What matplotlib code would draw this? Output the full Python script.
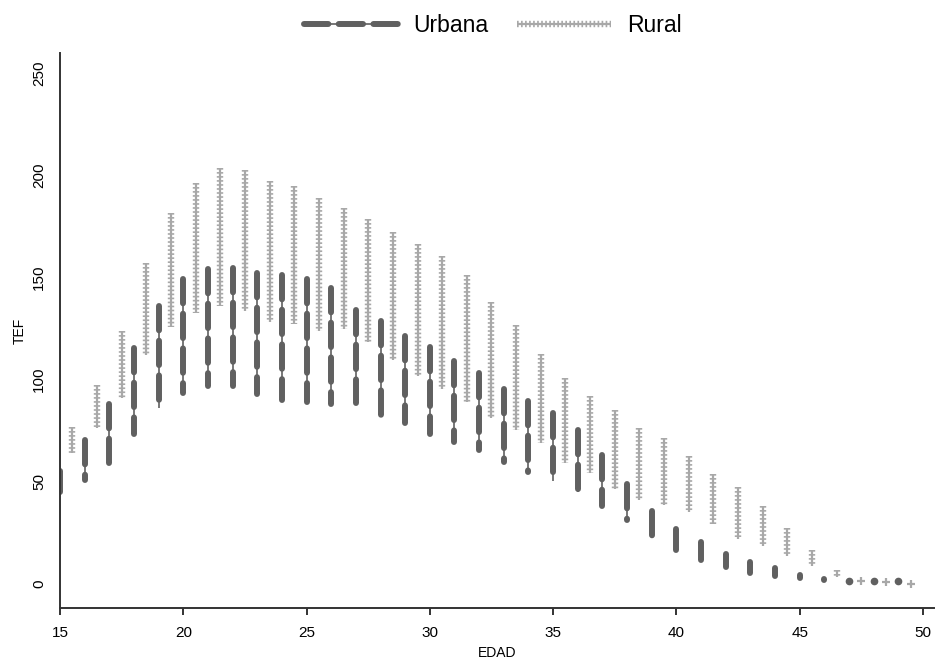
import matplotlib
matplotlib.use("Agg")
import matplotlib.pyplot as plt
from matplotlib.lines import Line2D
from matplotlib.legend_handler import HandlerTuple

plt.rcParams['font.family'] = ['Liberation Sans', 'DejaVu Sans']
plt.rcParams['lines.scale_dashes'] = False

# edad (urbana en enteros, rural desplazada media unidad)
edad_urb = list(range(15, 50))
edad_rur = [e + 0.5 for e in range(15, 50)]

urb_max = [55, 70.5, 88, 115.5, 136, 149, 154, 154.5, 152, 151, 149, 145,
           134, 128.5, 121.5, 116, 109, 103, 95.5, 89.5, 83.5, 75, 63, 49,
           35.5, 26.5, 20.5, 14.5, 10.5, 7.5, 4, 2, 1.4, 1.4, 1.4]
urb_min = [45, 50.5, 59, 73.5, 86, 93.5, 97, 97, 93, 90, 89, 88,
           88.5, 82.5, 78.5, 73.5, 69.5, 65.5, 59.5, 54.5, 50, 45, 38, 31,
           23.5, 16.5, 11.5, 8, 5, 3.5, 2.5, 1.5, 1.4, 1.4, 1.4]

rur_max = [76.5, 97.5, 124, 157, 181.5, 196.5, 203.5, 202.5, 197.5, 195, 189, 184,
           178.5, 172.5, 166.5, 160.5, 151, 138, 126.5, 112.5, 100.5, 92, 85, 76,
           71.5, 62.5, 53.5, 47.5, 38, 27, 16.5, 6.5, 1.4, 0.6, 0]
rur_min = [64, 76, 91, 112, 125.5, 132.5, 136, 133.5, 128, 127, 124, 124.5,
           118.5, 109.5, 101.5, 95.5, 89, 81, 75, 69, 59, 54, 46.5, 41,
           38.5, 35, 29, 22, 18.5, 13.5, 8.5, 3, 1.4, 0.6, 0]

c_urb = '#606060'
c_rur = '#a8a8a8'
urb_thin = dict(color=c_urb, lw=1.2, solid_capstyle='butt')
urb_style = dict(color=c_urb, lw=4.3, dashes=(17.5, 7.5), dash_capstyle='round',
                 solid_capstyle='round')
rur_thin = dict(color=c_rur, lw=1.6, solid_capstyle='butt')
rur_bars = dict(color=c_rur, lw=4.6, dashes=(1.2, 1.7), dash_capstyle='butt')

fig = plt.figure(figsize=(9.35, 6.61), dpi=100)
ax = fig.add_axes([0.0642, 0.0802, 0.935, 0.8396])

for x, hi, lo in zip(edad_urb, urb_max, urb_min):
    if hi - lo < 0.5:
        ax.plot([x], [hi], 'o', color=c_urb, ms=4.5, mec=c_urb)
    else:
        ax.plot([x, x], [hi, lo], **urb_thin)
        ax.plot([x, x], [hi, lo], **urb_style)

for x, hi, lo in zip(edad_rur, rur_max, rur_min):
    if hi - lo < 0.5:
        ax.plot([x], [hi], '+', color=c_rur, ms=6, mew=1.6)
    else:
        ax.plot([x, x], [hi, lo], **rur_thin)
        ax.plot([x, x], [hi, lo], **rur_bars)

ax.set_xlim(15, 50.46)
ax.set_ylim(-12, 260)
ax.set_xticks([15, 20, 25, 30, 35, 40, 45, 50])
ax.set_yticks([0, 50, 100, 150, 200, 250])

for s in ['top', 'right']:
    ax.spines[s].set_visible(False)
for s in ['left', 'bottom']:
    ax.spines[s].set_color('#333333')
    ax.spines[s].set_linewidth(1.4)

ax.tick_params(axis='y', length=0, pad=10, labelsize=11)
for lab in ax.get_yticklabels():
    lab.set_rotation(90)
    lab.set_va('center')
ax.tick_params(axis='x', length=5, width=1.4, color='#333333', pad=8, labelsize=11)

ax.set_xlabel('EDAD', fontsize=10, labelpad=4)
ax.set_ylabel('TEF', fontsize=10, labelpad=4)

h_urb = (Line2D([], [], **urb_thin), Line2D([], [], **urb_style))
h_rur = (Line2D([], [], **rur_thin), Line2D([], [], **rur_bars))
fig.legend([h_urb, h_rur], ['Urbana', 'Rural'], ncol=2, frameon=False,
           loc='upper center', bbox_to_anchor=(0.527, 1.01), fontsize=16.5,
           handlelength=4.1, columnspacing=1.25, handletextpad=0.7,
           handler_map={tuple: HandlerTuple(ndivide=1, pad=0)})

fig.savefig('out.png', dpi=100)
